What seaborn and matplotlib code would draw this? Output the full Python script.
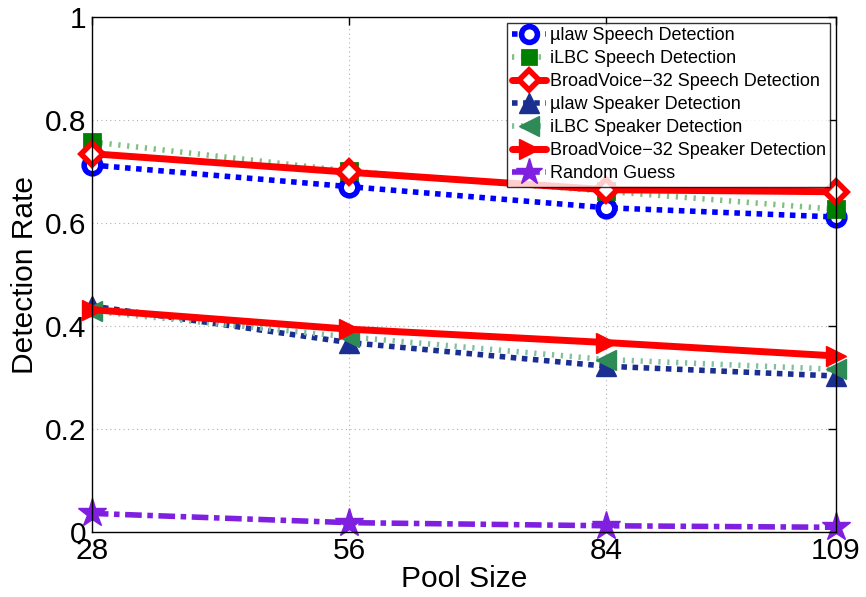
import matplotlib
matplotlib.use("Agg")
import matplotlib.pyplot as plt
import seaborn as sns
import numpy as np

pool_size = [28, 56, 84, 109]
mulaw_speech = [0.713, 0.671, 0.630, 0.612]
ilbc_speech = [0.758, 0.701, 0.662, 0.627]
bv_speech = [0.735, 0.699, 0.665, 0.661]
mulaw_speaker = [0.439, 0.368, 0.322, 0.303]
ilbc_speaker = [0.429, 0.379, 0.335, 0.316]
bv_speaker = [0.432, 0.394, 0.368, 0.342]
random_guess = [0.036, 0.018, 0.012, 0.009]

labels = ["µlaw Speech Detection", "iLBC Speech Detection",
          "BroadVoice−32 Speech Detection", "µlaw Speaker Detection",
          "iLBC Speaker Detection", "BroadVoice−32 Speaker Detection",
          "Random Guess"]
yticks = [0, 0.2, 0.4, 0.6, 0.8, 1]
ytick_labels = ["0", "0.2", "0.4", "0.6", "0.8", "1"]

sns.set_style("white", {"text.color": "black", "axes.labelcolor": "black",
                        "xtick.color": "black", "ytick.color": "black"})
plt.rcParams['font.family'] = ['Liberation Sans', 'DejaVu Sans']

fig = plt.figure(figsize=(8.66, 5.97), dpi=100)
ax = fig.add_axes([0.106, 0.109, 0.859, 0.862])

styles = [
    dict(color="#0000ff", ls=(0, (1, 1)), lw=4, marker="o", ms=12, mfc="white", mec="#0000ff", mew=4),
    dict(color="#80c080", ls=(0, (0.4, 1.2)), lw=4, marker="s", ms=11, mfc="#008000", mec="#008000", mew=2),
    dict(color="#ff0000", ls="-", lw=5, marker="D", ms=11, mfc="white", mec="#ff0000", mew=4),
    dict(color="#1a2f8f", ls=(0, (1, 1)), lw=4, marker="^", ms=15, mfc="#1a2f8f", mec="#1a2f8f", mew=1),
    dict(color="#80c0a0", ls=(0, (0.4, 1.2)), lw=4, marker="<", ms=15, mfc="#2e8b57", mec="#2e8b57", mew=1),
    dict(color="#ff0000", ls="-", lw=5, marker=">", ms=15, mfc="#ff0000", mec="#ff0000", mew=1),
    dict(color="#7f1fdf", ls=(0, (3, 1, 1, 1)), lw=4, marker="*", ms=21, mfc="#7f1fdf", mec="#7f1fdf", mew=1),
]
series = [mulaw_speech, ilbc_speech, bv_speech, mulaw_speaker, ilbc_speaker, bv_speaker, random_guess]

for vals, lab, st in zip(series, labels, styles):
    sns.lineplot(x=pool_size, y=vals, ax=ax, label=lab, color=st["color"],
                 linestyle=st["ls"], linewidth=st["lw"], marker=st["marker"],
                 markersize=st["ms"], markerfacecolor=st["mfc"],
                 markeredgecolor=st["mec"], markeredgewidth=st["mew"], clip_on=False)

ax.set_xlim(28, 109)
ax.set_ylim(0, 1)
ax.set_xticks(pool_size)
ax.set_xticklabels([str(p) for p in pool_size])
ax.set_yticks(yticks)
ax.set_yticklabels(ytick_labels)
ax.tick_params(axis="both", direction="in", labelsize=21.5, length=6, width=1, top=True, right=True, pad=4,
               colors="black")
ax.grid(True, linestyle=(0, (1, 3)), color="#b0b0b0", linewidth=0.8)
for sp in ax.spines.values():
    sp.set_visible(True)
    sp.set_color("black")
    sp.set_linewidth(1)
ax.set_xlabel("Pool Size", fontsize=21.5, labelpad=0, color="black")
ax.set_ylabel("Detection Rate", fontsize=21.5, labelpad=4, color="black")

leg = ax.legend(loc="upper right", fontsize=13, frameon=True, fancybox=False,
                edgecolor="black", borderaxespad=0.3, handlelength=1.9,
                handletextpad=0.2, labelspacing=0.33, borderpad=0.25, markerscale=0.95)
leg.get_frame().set_linewidth(1)
for t in leg.get_texts():
    t.set_color("black")

fig.savefig("out.png", dpi=100)
